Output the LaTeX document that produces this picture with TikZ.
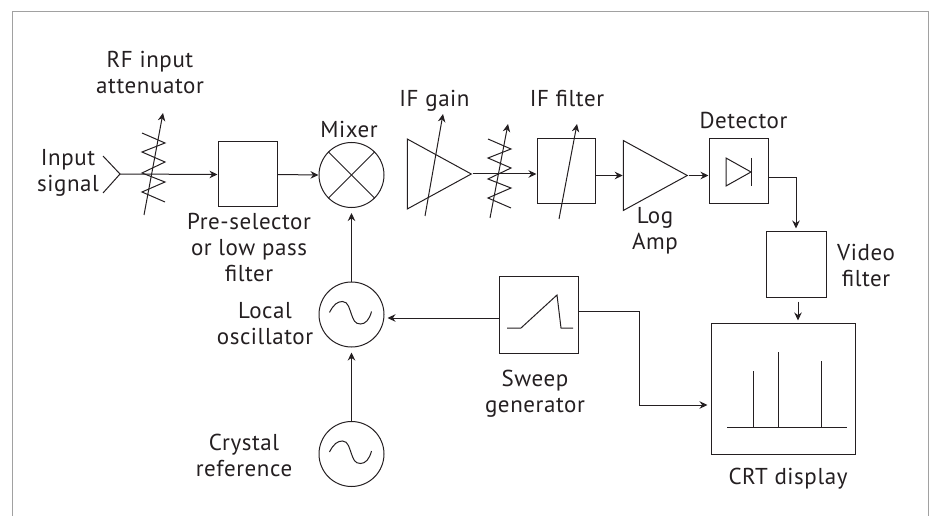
\documentclass[tikz,border=0pt]{standalone}
\usepackage{xcolor}
\usepackage{fontspec}
\setmainfont[LetterSpace=2.5]{PT Sans}
\definecolor{DiagramInk}{rgb}{0.14, 0.12, 0.13}
\definecolor{DiagramFrame}{rgb}{0.63, 0.63, 0.63}
\usepackage{tikz}
\usetikzlibrary{arrows.meta,shapes.geometric,positioning}
\tikzset{
	wire/.style={line width=1pt, DiagramInk},
	flow/.style={wire, -{Stealth[length=8pt,width=7.5pt]}},
	block/.style={draw=DiagramInk, line width=1pt, rectangle, inner sep=0pt},
	round block/.style={draw=DiagramInk, line width=1pt, circle, inner sep=0pt, minimum size=65pt},
	amp/.style={draw=DiagramInk, line width=1pt, isosceles triangle, isosceles triangle stretches, shape border rotate=0, inner sep=0pt, minimum width=70pt, minimum height=64pt},
	caption/.style={text=DiagramInk, font=\fontsize{23}{26}\selectfont, align=center, anchor=base, inner sep=0pt},
	zigzag/.pic={\draw[wire] (0,0) -- (23,10) -- (0,19) -- (23,29) -- (0,40) -- (23,49) -- (0,59) -- (23,69);},
	sinewave/.pic={\draw[wire] (-22,-2) .. controls (-18,-10) and (-14,-13) .. (-9,-13) .. controls (-3,-13) and (-2,-5) .. (0,0) .. controls (2,5) and (3,9.5) .. (9,9.5) .. controls (14,9.5) and (18,5) .. (20,-3);}
}
\begin{document}
\begin{tikzpicture}[x=1pt, y=-1pt]
	\useasboundingbox (0,0) rectangle (930,516);
	\draw[DiagramFrame, line width=1pt] (12,516) -- (12,12) -- (928,12) -- (928,516);

	\node[block, minimum width=59pt, minimum height=65pt] (preselector) at (247.5,174.5) {};
	\node[round block] (mixer) at (351.5,175) {};
	\node[amp] (ifgain) at (428,174) {};
	\node[block, minimum width=58pt, minimum height=65pt] (iffilter) at (566,171.5) {};
	\node[amp] (logamp) at (644,175.5) {};
	\node[block, minimum width=59pt, minimum height=65pt] (detector) at (738.5,171.5) {};
	\node[block, minimum width=60pt, minimum height=65pt] (videofilter) at (796,264.5) {};
	\node[block, minimum width=144pt, minimum height=131pt] (crt) at (783,388.5) {};
	\node[block, minimum width=79pt, minimum height=77pt] (sweep) at (538.5,314.5) {};
	\node[round block] (localosc) at (351.5,314.5) {};
	\node[round block] (crystal) at (351.5,454) {};

	\node[caption] (rfinputtext) at (150,94) {RF input\\attenuator};
	\node[caption] (inputtext) at (68,192) {Input\\signal};
	\node[caption] (preseltext) at (249,281) {Pre-selector\\or low pass\\filter};
	\node[caption] (mixertext) at (349,138) {Mixer};
	\node[caption] (ifgaintext) at (434.5,107) {IF gain};
	\node[caption] (iffiltertext) at (567,107) {IF filter};
	\node[caption] (detectortext) at (743.5,129) {Detector};
	\node[caption] (logamptext) at (655,249) {Log\\Amp};
	\node[caption] (videotext) at (866,287) {Video\\filter};
	\node[caption] (localtext) at (265,344) {Local\\oscillator};
	\node[caption] (crystaltext) at (244,476) {Crystal\\reference};
	\node[caption] (sweeptext) at (535,412) {Sweep\\generator};
	\node[caption] (crttext) at (788,484) {CRT display};

	\coordinate (inputtip) at (120,174);
	\coordinate (inputup) at (103,156);
	\coordinate (inputdown) at (103,193);
	\coordinate (rfarrowlow) at (144,215);
	\coordinate (rfarrowhigh) at (163,113);
	\coordinate (ifgainlow) at (425,216);
	\coordinate (ifgainhigh) at (443,114);
	\coordinate (ifatnlow) at (490,218);
	\coordinate (ifatnhigh) at (508,124);
	\coordinate (iffilterlow) at (559,219);
	\coordinate (iffilterhigh) at (577,124);
	\coordinate (crtcorner) at (639,405);

	\draw[wire] (inputup) -- (inputtip) -- (inputdown);
	\draw[flow] (inputtip) -- (preselector.west);
	\draw[flow] (preselector.east) -- (mixer.west);
	\draw[flow] (ifgain.apex) -- (iffilter.west |- ifgain.apex);
	\draw[flow] (iffilter.east |- logamp.lower side) -- (logamp.lower side);
	\draw[flow] (logamp.apex) -- (detector.west |- logamp.apex);
	\draw[flow, shorten >=3pt] (detector.east |- 0,178) -| (videofilter.north);
	\draw[flow, shorten <=4pt, shorten >=2pt] (798,0 |- videofilter.south) -- (798,0 |- crt.north);
	\draw[flow, shorten >=3pt] (sweep.west |- 0,318) -- (localosc.east |- 0,318);
	\draw[flow, shorten >=5pt] (crystal.north) -- (localosc.south);
	\draw[flow, shorten >=5pt] (localosc.north) -- (mixer.south);
	\draw[flow, shorten >=3pt] (sweep.east |- 0,311) -| (crtcorner) -- (crt.west |- crtcorner);

	\draw[wire] (mixer.north west) -- (mixer.south east);
	\draw[wire] (mixer.south west) -- (mixer.north east);

	\draw[flow] (rfarrowlow) -- (rfarrowhigh);
	\draw[flow] (ifgainlow) -- (ifgainhigh);
	\draw[flow] (ifatnlow) -- (ifatnhigh);
	\draw[flow] (iffilterlow) -- (iffilterhigh);
	\pic at (142,133) {zigzag};
	\pic at (488,139) {zigzag};

	\pic at (localosc) {sinewave};
	\pic at (crystal) {sinewave};

	\draw[wire] (726,158) -- (751,172) -- (726,186) -- cycle;
	\draw[wire] (751,158) -- (751,186);

	\draw[wire] (507,328) -- (521,328) -- (557,295) -- (561,328) -- (573,328);

	\draw[wire] (727,427) -- (847,427);
	\draw[wire] (753,427) -- (753,371);
	\draw[wire] (778,427) -- (778,352);
	\draw[wire] (821,427) -- (821,361);
\end{tikzpicture}
\end{document}
